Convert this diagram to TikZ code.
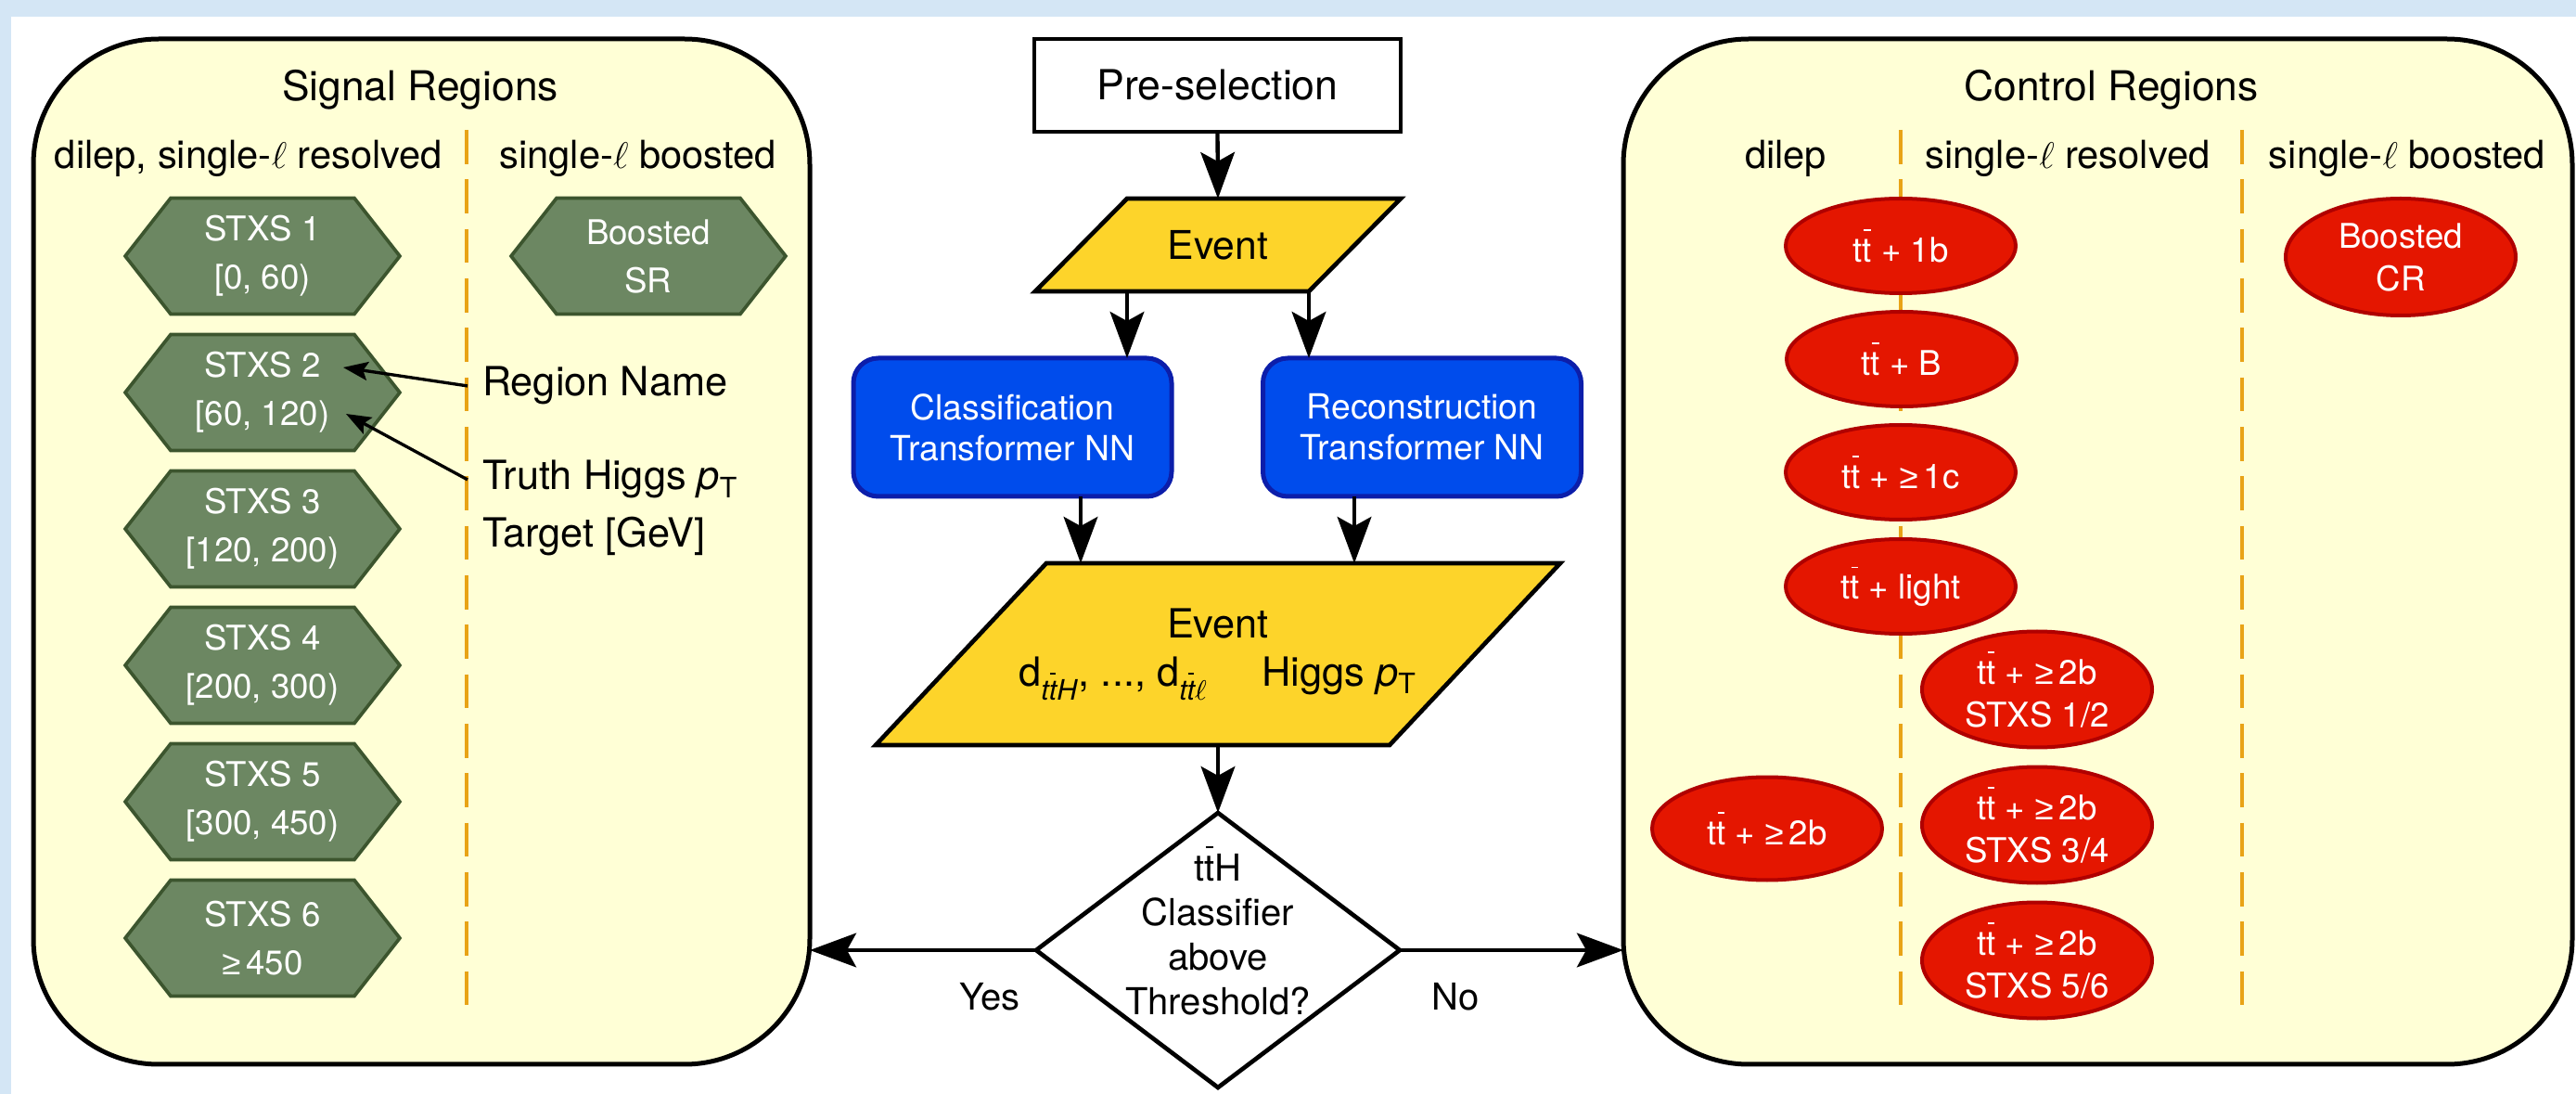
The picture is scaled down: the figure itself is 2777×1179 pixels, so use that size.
\documentclass[tikz,border=0pt]{standalone}
\usepackage{fontspec}
\setmainfont{TeX Gyre Heros}
\newfontfamily\symfont{Liberation Sans}
\usetikzlibrary{arrows.meta,shapes.geometric,calc}
\pgfdeclarelayer{bg}
\pgfdeclarelayer{shp}
\pgfsetlayers{bg,shp,main}
\definecolor{frameblue}{RGB}{212,230,245}
\definecolor{panelyellow}{RGB}{255,255,214}
\definecolor{dashorange}{RGB}{232,163,23}
\definecolor{hexfill}{RGB}{108,135,98}
\definecolor{hexline}{RGB}{60,85,46}
\definecolor{evgold}{RGB}{253,212,42}
\definecolor{nnblue}{RGB}{0,76,236}
\definecolor{nnline}{RGB}{12,30,170}
\definecolor{crred}{RGB}{228,22,0}
\definecolor{crline}{RGB}{176,0,0}
\newcommand\tbar{\makebox[0pt][l]{\hspace{0.03em}\raisebox{0.9em}{\rule{0.21em}{0.05em}}}t}
\newcommand\ttb{t\tbar}
\newcommand\myge{{\symfont ≥}}
\newcommand\hexshape[1]{\begin{pgfonlayer}{shp}\draw[hexdraw] (#1.west) -- ($(#1.north west)+(49,0)$) -- ($(#1.north east)+(-49,0)$) -- (#1.east) -- ($(#1.south east)+(-49,0)$) -- ($(#1.south west)+(49,0)$) -- cycle;\end{pgfonlayer}}
\newcommand\parashape[2]{\begin{pgfonlayer}{shp}\draw[paradraw] ($(#1.north west)+(#2,0)$) -- ($(#1.north east)+(#2,0)$) -- ($(#1.south east)+(-#2,0)$) -- ($(#1.south west)+(-#2,0)$) -- cycle;\end{pgfonlayer}}
\begin{document}
\begin{tikzpicture}[x=0.3pt,y=-0.3pt,
  every node/.style={outer sep=0pt},
  arr/.style={line width=1.3pt,-{Stealth[length=15pt,width=11pt,inset=3pt]}},
  annarr/.style={line width=1pt,-{Stealth[length=8pt,width=6pt,inset=1.5pt]}},
  panelbox/.style={draw=black,line width=1.5pt,fill=panelyellow,rounded corners=40.5pt,inner sep=0pt},
  dashln/.style={draw=dashorange,line width=1.2pt,dash pattern=on 11pt off 5pt},
  ttlstyle/.style={anchor=base,font=\fontsize{13.3}{16}\selectfont},
  colhd/.style={anchor=base,font=\fontsize{12.5}{15}\selectfont},
  hexbox/.style={minimum width=88.8pt,minimum height=37.5pt,inner sep=0pt,text=white,align=center,font=\fontsize{11}{15.6}\selectfont},
  hexdraw/.style={draw=hexline,fill=hexfill,line width=1.1pt,line join=miter},
  annlbl/.style={anchor=base west,inner xsep=4.8pt,inner ysep=0pt,font=\fontsize{13}{16}\selectfont},
  prebox/.style={draw=black,line width=1.4pt,fill=white,minimum width=118.5pt,minimum height=30pt,font=\fontsize{13.4}{16}\selectfont},
  parabox/.style={inner sep=0pt,align=center},
  paradraw/.style={draw=black,line width=1.4pt,fill=evgold,line join=miter},
  nnbox/.style={draw=nnline,fill=nnblue,line width=1.5pt,rounded corners=8pt,text=white,align=center,minimum width=102.9pt,minimum height=44.7pt,font=\fontsize{11.2}{13.2}\selectfont},
  decision/.style={diamond,draw=black,line width=1.4pt,fill=white,minimum width=117.6pt,minimum height=88.8pt,inner sep=0pt},
  crell/.style={ellipse,draw=crline,fill=crred,line width=1.2pt,text=white,align=center,inner sep=0pt,minimum width=74.4pt,font=\fontsize{11}{13.8}\selectfont},
  yesno/.style={anchor=base,font=\fontsize{12}{14}\selectfont}
]
\useasboundingbox (0,0) rectangle (2777,1179);
\begin{pgfonlayer}{bg}
\fill[frameblue] (0,0) rectangle (2777,1179);
\fill[white] (12,18) rectangle (2777,1179);
\node[panelbox,minimum width=251.1pt,minimum height=331.5pt] (sr) at (454.5,594.5) {};
\node[panelbox,minimum width=306.9pt,minimum height=331.5pt] (cr) at (2261.5,594.5) {};
\draw[dashln] (503,140) -- (503,1096);
\draw[dashln] (2049,140) -- (2049,1096);
\draw[dashln] (2417,140) -- (2417,1096);
\end{pgfonlayer}

% titles and headers
\node[ttlstyle] (srt) at (453,109) {Signal Regions};
\node[ttlstyle] (crt) at (2276,109) {Control Regions};
\node[colhd] (h1) at (268,182) {dilep, single-$\ell$ resolved};
\node[colhd] (h2) at (687.5,182) {single-$\ell$ boosted};
\node[colhd] (h3) at (1925,182) {dilep};
\node[colhd] (h4) at (2229,182) {single-$\ell$ resolved};
\node[colhd] (h5) at (2595,182) {single-$\ell$ boosted};

% signal region hexagons
\node[hexbox] (s1) at (283,276) {STXS 1\\{[0, 60)}}; \hexshape{s1}
\node[hexbox] (s2) at (283,423) {STXS 2\\{[60, 120)}}; \hexshape{s2}
\node[hexbox] (s3) at (283,570) {STXS 3\\{[120, 200)}}; \hexshape{s3}
\node[hexbox] (s4) at (283,717) {STXS 4\\{[200, 300)}}; \hexshape{s4}
\node[hexbox] (s5) at (283,864) {STXS 5\\{[300, 450)}}; \hexshape{s5}
\node[hexbox] (s6) at (283,1011) {STXS 6\\\myge\,450}; \hexshape{s6}
\node[hexbox] (sb) at (699,276) {Boosted\\SR}; \hexshape{sb}

% annotations
\node[annlbl] (rn) at (504,427) {Region Name};
\node[annlbl] (th) at (504,528) {Truth Higgs \textit{p}\textsubscript{T}};
\node[annlbl] (tg) at (504,590) {Target [GeV]};
\coordinate (tipA) at (370,396);
\coordinate (tipB) at (373,446);
\draw[annarr] (rn.west) -- (tipA);
\draw[annarr] (th.west) -- (tipB);

% central flow
\node[prebox] (pre) at (1312.5,92) {Pre-selection};
\node[parabox,minimum width=88.5pt,minimum height=30pt,font=\fontsize{12.8}{15}\selectfont] (ev1) at (1313,264) {Event};
\parashape{ev1}{49.5}
\node[nnbox] (cls) at (1091.5,460.5) {Classification\\Transformer NN};
\node[nnbox] (rec) at (1533,460.5) {Reconstruction\\Transformer NN};
\node[parabox,minimum width=166.2pt,minimum height=58.8pt,font=\fontsize{13}{15.6}\selectfont] (ev2) at (1313,705) {Event\\d\textsubscript{\itshape t\tbar H}, ..., d\textsubscript{\itshape t\tbar$\ell$}\hspace{17.4pt}Higgs \textit{p}\textsubscript{T}};
\parashape{ev2}{92}
\node[decision] (dia) at (1313,1024) {};
\node[align=center,inner sep=0pt,font=\fontsize{12}{14.4}\selectfont] (dtx) at (1313,1003) {\ttb H\\Classifier\\above\\Threshold?};
\node[yesno] (yes) at (1067,1088) {Yes};
\node[yesno] (no) at (1569,1088) {No};

\draw[arr] (pre.south) -- (ev1.north);
\coordinate (e1l) at ($(ev1.south)+(-98,0)$);
\coordinate (e1r) at ($(ev1.south east)+(-49.5,0)$);
\draw[arr] (e1l) -- (e1l |- cls.north);
\draw[arr] (e1r) -- (e1r |- rec.north);
\coordinate (e2l) at ($(ev2.north west)+(129,0)$);
\coordinate (e2r) at ($(ev2.north west)+(424,0)$);
\draw[arr] (cls.south -| e2l) -- (e2l);
\draw[arr] (rec.south -| e2r) -- (e2r);
\draw[arr] (ev2.south) -- (dia.north);
\draw[arr] (dia.west) -- (dia.west -| sr.east);
\draw[arr] (dia.east) -- (dia.east -| cr.west);

% control region ellipses
\node[crell,minimum height=30.6pt] (c1) at (2049,265) {\ttb{} + 1b};
\node[crell,minimum height=30.6pt] (c2) at (2050,387) {\ttb{} + B};
\node[crell,minimum height=30.6pt] (c3) at (2049,509) {\ttb{} + \myge\,1c};
\node[crell,minimum height=30.6pt] (c4) at (2049,632) {\ttb{} + light};
\node[crell,minimum height=37.5pt] (c5) at (2196,743) {\ttb{} + \myge\,2b\\STXS 1/2};
\node[crell,minimum height=37.5pt] (c6) at (2196,889) {\ttb{} + \myge\,2b\\STXS 3/4};
\node[crell,minimum height=37.5pt] (c7) at (2196,1035) {\ttb{} + \myge\,2b\\STXS 5/6};
\node[crell,minimum height=33.3pt] (c8) at (1905,893) {\ttb{} + \myge\,2b};
\node[crell,minimum height=37.8pt] (c9) at (2588,277) {Boosted\\CR};
\end{tikzpicture}
\end{document}
